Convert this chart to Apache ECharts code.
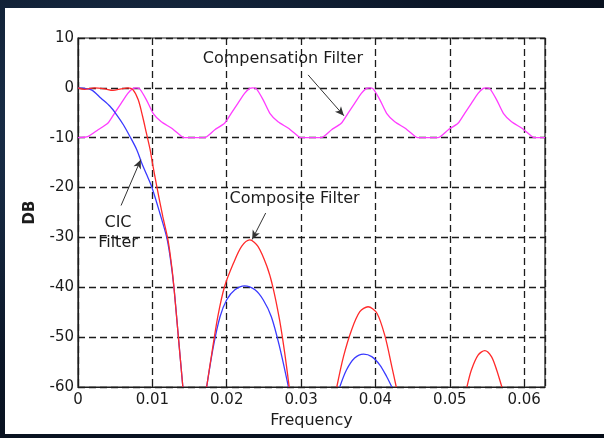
<!DOCTYPE html>
<html>
<head>
<meta charset="utf-8">
<script src="https://cdn.jsdelivr.net/npm/echarts@6/dist/echarts.min.js"></script>
<style>
  * { margin: 0; padding: 0; }
  body {
    width: 604px; height: 438px; overflow: hidden;
    background: radial-gradient(ellipse at 20% 30%, #1d3552 0%, #0b1627 55%, #050b16 100%);
  }
  .card { position: absolute; left: 5px; top: 8px; width: 599px; height: 426px; background: #fff; }
  #main { position: absolute; left: 0; top: 0; width: 604px; height: 438px; }
</style>
</head>
<body>
<div class="card"></div>
<div id="main"></div>
<script>
// 横轴刻度
var xTickLabels = ['0', '0.01', '0.02', '0.03', '0.04', '0.05', '0.06'];
var freqMax = 0.0628;

// CIC Filter (blue), [frequency, dB]
var cicMain = [[0, 0], [0.0018, -0.4], [0.0031, -2.1], [0.0043, -3.7], [0.0052, -5.4], [0.0061, -7.4],
  [0.007, -9.8], [0.0079, -12.4], [0.0085, -14.8], [0.0092, -17.3], [0.0099, -19.8], [0.011, -25.1],
  [0.0119, -29.8], [0.0124, -34], [0.0129, -40], [0.0135, -50], [0.0141, -60]];
var cicLobe2 = [[0.0173, -60], [0.0182, -51.9], [0.0191, -45.9], [0.02, -42.5], [0.0211, -40.5],
  [0.0224, -39.7], [0.0238, -40.5], [0.0249, -42.5], [0.026, -45.9], [0.0271, -51.9], [0.0283, -60]];
var cicLobe3 = [[0.0352, -60], [0.0361, -56.6], [0.0372, -54.2], [0.0384, -53.4], [0.0395, -53.9],
  [0.0406, -55.6], [0.0415, -57.9], [0.0422, -60]];

// Composite Filter (red)
var compositeMain = [[0, 0], [0.0009, -0.3], [0.0022, 0], [0.0036, -0.2], [0.0047, -0.5], [0.0058, -0.2],
  [0.0067, 0], [0.0074, -0.4], [0.0081, -2.4], [0.0087, -5.8], [0.0092, -9.1], [0.0097, -12.4],
  [0.01, -15], [0.0106, -19.8], [0.0114, -25.8], [0.0121, -30.5], [0.0126, -35.8], [0.0129, -40],
  [0.0135, -50], [0.0141, -60]];
var compositeLobe2 = [[0.0173, -60], [0.018, -53.2], [0.0188, -45.9], [0.0197, -39.9], [0.0209, -35.2],
  [0.022, -31.8], [0.0231, -30.5], [0.0242, -31.8], [0.0254, -35.8], [0.0262, -39.9], [0.0271, -46.5],
  [0.0278, -53.2], [0.0284, -60]];
var compositeLobe3 = [[0.0348, -60], [0.0357, -53.9], [0.0368, -48.5], [0.0379, -44.9], [0.039, -43.9],
  [0.0402, -45.2], [0.0413, -49.9], [0.0422, -55.9], [0.0428, -60]];
var compositeLobe4 = [[0.0523, -60], [0.0529, -56.6], [0.0538, -53.6], [0.0547, -52.7], [0.0556, -53.9],
  [0.0563, -56.6], [0.057, -60]];

// Compensation Filter (magenta)
var compensation = [[0, -10], [0.0013, -9.8], [0.0027, -8.4], [0.004, -7.1], [0.0049, -5.1], [0.0058, -3.1],
  [0.0067, -1.1], [0.0074, -0.1], [0.0078, 0], [0.0083, -0.2], [0.0092, -2.4], [0.0101, -5.1],
  [0.0112, -6.8], [0.0126, -8.1], [0.0139, -9.7], [0.0143, -10], [0.017, -10],
  [0.0184, -8.4], [0.0197, -7.1], [0.0206, -5.1], [0.0215, -3.1], [0.0224, -1.1], [0.0231, -0.1],
  [0.0235, 0], [0.024, -0.2], [0.0249, -2.4], [0.0258, -5.1], [0.0269, -6.8], [0.0283, -8.1],
  [0.0296, -9.7], [0.03, -10], [0.0327, -10],
  [0.0341, -8.4], [0.0354, -7.1], [0.0363, -5.1], [0.0372, -3.1], [0.0381, -1.1], [0.0388, -0.1],
  [0.0392, 0], [0.0397, -0.2], [0.0406, -2.4], [0.0415, -5.1], [0.0426, -6.8], [0.044, -8.1],
  [0.0453, -9.7], [0.0457, -10], [0.0484, -10],
  [0.0498, -8.4], [0.0511, -7.1], [0.052, -5.1], [0.0529, -3.1], [0.0538, -1.1], [0.0545, -0.1],
  [0.0549, 0], [0.0554, -0.2], [0.0563, -2.4], [0.0572, -5.1], [0.0583, -6.8], [0.0597, -8.1],
  [0.061, -9.7], [0.0614, -10], [0.0628, -10]];

// 注释文字和箭头 (data units)
var noteTexts = [
  { text: 'Compensation Filter', coord: [0.02755, 5.8] },
  { text: 'Composite Filter', coord: [0.02913, -22.3] },
  { text: 'CIC\nFilter', coord: [0.00538, -29] }
];
var noteArrows = [
  [[0.03094, 2.6], [0.03576, -5.6]],
  [[0.02524, -25.1], [0.02342, -30.4]],
  [[0.00579, -23.6], [0.00844, -14.4]]
];

var FONT = 'DejaVu Sans';
var INK = '#1c1c1c';
var BLUE = '#3a3aff', RED = '#ff2a2a', MAGENTA = '#ff3cff';

function lineSeries(data, color, extra) {
  var s = {
    type: 'line',
    data: data,
    showSymbol: false,
    symbol: 'none',
    smooth: 0.3,
    xAxisIndex: 0, yAxisIndex: 0,
    lineStyle: { color: color, width: 1.3 },
    animation: false,
    z: 3
  };
  for (var k in extra) s[k] = extra[k];
  return s;
}

var chart = echarts.init(document.getElementById('main'));

var xLabel = function (v) {
  var i = Math.round(v * 100);
  return Math.abs(v * 100 - i) < 1e-6 && xTickLabels[i] !== undefined ? xTickLabels[i] : '';
};

var dashed = { color: INK, type: [7, 4], width: 1.3 };

chart.setOption({
  backgroundColor: 'transparent',
  textStyle: { fontFamily: FONT },
  grid: { left: 78, top: 38, width: 467, height: 349, show: true, borderColor: INK, borderWidth: 1.2 },
  xAxis: [{
    type: 'value', min: 0, max: freqMax, interval: 0.01,
    name: 'Frequency', nameLocation: 'middle', nameGap: 22,
    nameTextStyle: { fontFamily: FONT, fontSize: 16, color: INK },
    axisLine: { onZero: false, lineStyle: { color: INK, width: 1.2 } },
    axisTick: { inside: true, length: 4, lineStyle: { color: INK } },
    axisLabel: { formatter: xLabel, fontFamily: FONT, fontSize: 15, color: INK, margin: 6, showMaxLabel: false },
    splitLine: { show: true, lineStyle: dashed }
  }, {
    type: 'value', min: 0, max: freqMax, interval: 0.01, position: 'top',
    axisLine: { show: false, onZero: false },
    axisTick: { inside: true, length: 4, lineStyle: { color: INK } },
    axisLabel: { show: false }, splitLine: { show: false }
  }],
  yAxis: [{
    type: 'value', min: -60, max: 10, interval: 10,
    name: 'DB', nameLocation: 'middle', nameGap: 40, nameRotate: 90,
    nameTextStyle: { fontFamily: FONT, fontSize: 15, fontWeight: 'bold', color: INK },
    axisLine: { show: true, onZero: false, lineStyle: { color: INK, width: 1.2 } },
    axisTick: { show: true, inside: true, length: 4, lineStyle: { color: INK } },
    axisLabel: { fontFamily: FONT, fontSize: 15, color: INK, margin: 4 },
    splitLine: { show: true, lineStyle: dashed }
  }, {
    type: 'value', min: -60, max: 10, interval: 10, position: 'right',
    axisLine: { show: false, onZero: false },
    axisTick: { show: true, inside: true, length: 4, lineStyle: { color: INK } },
    axisLabel: { show: false }, splitLine: { show: false }
  }],
  series: [
    lineSeries(compensation, MAGENTA, {
      smooth: 0.2,
      markLine: {
        silent: true, animation: false, symbol: ['none', 'arrow'], symbolSize: [6, 9],
        label: { show: false },
        lineStyle: { color: '#333', width: 1, type: 'solid' },
        data: noteArrows.map(function (a) { return [{ coord: a[0] }, { coord: a[1] }]; })
      },
      markPoint: {
        silent: true, animation: false, symbol: 'circle', symbolSize: 1,
        itemStyle: { color: 'rgba(0,0,0,0)' },
        label: { show: true, position: 'inside', fontFamily: FONT, fontSize: 16, color: INK, lineHeight: 20 },
        data: noteTexts.map(function (n) {
          return { coord: n.coord, label: { formatter: n.text } };
        })
      }
    }),
    lineSeries(cicMain, BLUE),
    lineSeries(cicLobe2, BLUE),
    lineSeries(cicLobe3, BLUE),
    lineSeries(compositeMain, RED),
    lineSeries(compositeLobe2, RED),
    lineSeries(compositeLobe3, RED),
    lineSeries(compositeLobe4, RED)
  ]
});
</script>
</body>
</html>
